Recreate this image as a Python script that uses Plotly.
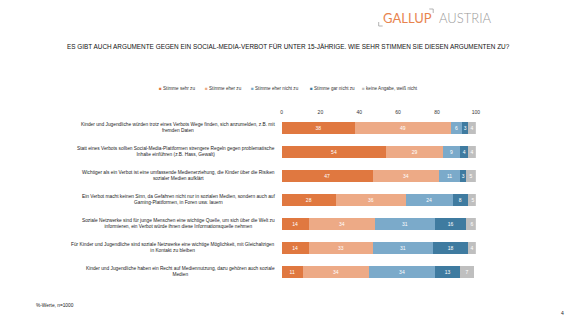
import plotly.graph_objects as go

categories = [
    "Kinder und Jugendliche würden trotz eines Verbots Wege finden, sich anzumelden, z.B. mit<br>fremden Daten",
    "Statt eines Verbots sollten Social-Media-Plattformen strengere Regeln gegen problematische<br>Inhalte einführen (z.B. Hass, Gewalt)",
    "Wichtiger als ein Verbot ist eine umfassende Medienerziehung, die Kinder über die Risiken<br>sozialer Medien aufklärt",
    "Ein Verbot macht keinen Sinn, da Gefahren nicht nur in sozialen Medien, sondern auch auf<br>Gaming-Plattformen, in Foren usw. lauern",
    "Soziale Netzwerke sind für junge Menschen eine wichtige Quelle, um sich über die Welt zu<br>informieren, ein Verbot würde ihnen diese Informationsquelle nehmen",
    "Für Kinder und Jugendliche sind soziale Netzwerke eine wichtige Möglichkeit, mit Gleichaltrigen<br>in Kontakt zu bleiben",
    "Kinder und Jugendliche haben ein Recht auf Mediennutzung, dazu gehören auch soziale<br>Medien",
]
series_names = ["Stimme sehr zu", "Stimme eher zu", "Stimme eher nicht zu",
                "Stimme gar nicht zu", "keine Angabe, weiß nicht"]
sehr_zu = [38, 54, 47, 28, 14, 14, 11]
eher_zu = [49, 29, 34, 36, 34, 33, 34]
eher_nicht = [6, 9, 11, 24, 31, 31, 34]
gar_nicht = [3, 4, 3, 8, 16, 18, 13]
keine_angabe = [4, 4, 5, 5, 6, 4, 7]
tick_vals = [0, 20, 40, 60, 80, 100]

colors = ["#E07840", "#EDAA86", "#7BAACA", "#3F7BA0", "#BFBFBF"]
values = [sehr_zu, eher_zu, eher_nicht, gar_nicht, keine_angabe]

W, H = 576, 324
FONT = "Liberation Sans, Arial, sans-serif"

fig = go.Figure()
ids = list(range(len(categories)))
for name, vals, col in zip(series_names, values, colors):
    fig.add_trace(go.Bar(
        y=ids, x=vals, orientation="h", name=name,
        marker=dict(color=col, line=dict(width=0)),
        text=[str(v) for v in vals], textposition="inside",
        insidetextanchor="middle", constraintext="none",
        textfont=dict(color="white", size=5, family=FONT),
        showlegend=False,
    ))

x0, x1 = 283 / W, 479 / W
fig.update_layout(
    width=W, height=H, margin=dict(l=0, r=0, t=0, b=0),
    paper_bgcolor="white", plot_bgcolor="white",
    barmode="stack", bargap=0.5,
    font=dict(family=FONT, color="#222222"),
    xaxis=dict(domain=[x0, x1], range=[0, 100], side="top",
               tickvals=tick_vals, showgrid=False, zeroline=False,
               showline=False, ticks="", tickfont=dict(size=5, color="#333333"),
               fixedrange=True),
    yaxis=dict(domain=[1 - 284 / H, 1 - 115.5 / H], range=[len(categories) - 0.5, -0.5],
               showticklabels=False, showgrid=False, zeroline=False, ticks=""),
)

# category labels
for i, c in enumerate(categories):
    fig.add_annotation(x=278 / W, xref="paper", y=i, yref="y", text=c,
                       xanchor="right", yanchor="middle", align="center",
                       showarrow=False, font=dict(size=4.8, color="#222222", family=FONT))

# legend built as annotations
leg_x = [157, 204, 250, 310, 362]
for name, col, lx in zip(series_names, colors, leg_x):
    fig.add_annotation(x=lx / W, y=1 - 88 / H, xref="paper", yref="paper",
                       text=f"<span style='color:{col}'>■</span> {name}",
                       xanchor="left", yanchor="middle", showarrow=False,
                       font=dict(size=4.6, color="#333333", family=FONT))

# title
fig.add_annotation(x=290 / W, y=1 - 47 / H, xref="paper", yref="paper",
                   text="ES GIBT AUCH ARGUMENTE GEGEN EIN SOCIAL-MEDIA-VERBOT FÜR UNTER 15-JÄHRIGE. WIE SEHR STIMMEN SIE DIESEN ARGUMENTEN ZU?",
                   xanchor="center", yanchor="middle", showarrow=False,
                   font=dict(size=6.4, color="#111111", family=FONT))

# logo
fig.add_annotation(x=383 / W, y=1 - 18 / H, xref="paper", yref="paper",
                   text="GALLUP", xanchor="left", yanchor="middle", showarrow=False,
                   font=dict(size=13, color="#E8844E", family="Lato, Open Sans, sans-serif"))
fig.add_annotation(x=440 / W, y=1 - 18 / H, xref="paper", yref="paper",
                   text="AUSTRIA", xanchor="left", yanchor="middle", showarrow=False,
                   font=dict(size=13, color="#9A9A9A", family="Lato, Open Sans, sans-serif",
                             weight=300))
for (ax0, ay0, ax1, ay1) in [(381, 22, 381, 26), (381, 26, 385, 26),
                              (432, 9, 436, 9), (436, 9, 436, 13)]:
    fig.add_shape(type="line", xref="paper", yref="paper", x0=ax0 / W, x1=ax1 / W,
                  y0=1 - ay0 / H, y1=1 - ay1 / H, line=dict(color="#A0A0A0", width=0.8))

# footnote and page number
fig.add_annotation(x=33 / W, y=1 - 305 / H, xref="paper", yref="paper",
                   text="%-Werte, n=1000", xanchor="left", yanchor="middle", showarrow=False,
                   font=dict(size=4.8, color="#222222", family=FONT))
fig.add_annotation(x=570 / W, y=1 - 313 / H, xref="paper", yref="paper",
                   text="4", xanchor="right", yanchor="middle", showarrow=False,
                   font=dict(size=5, color="#222222", family=FONT))

fig.write_html("out.html")
